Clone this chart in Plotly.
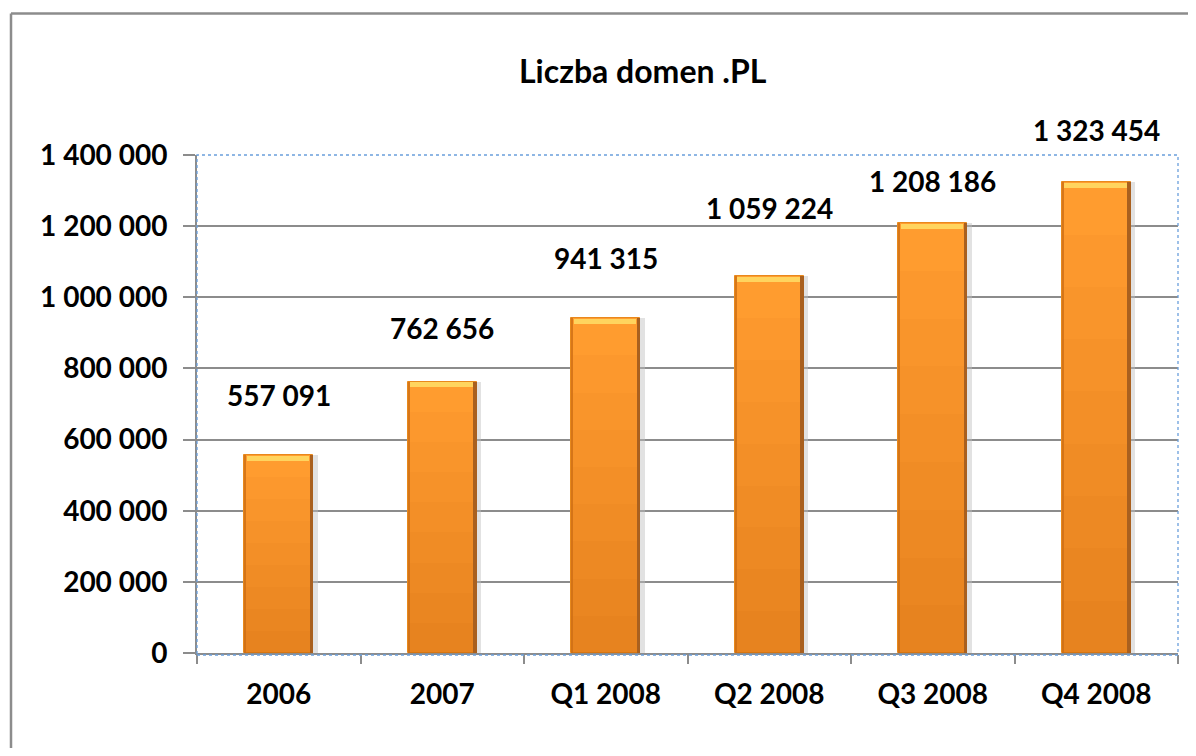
import plotly.graph_objects as go

# ---- data ----
categories = ["2006", "2007", "Q1 2008", "Q2 2008", "Q3 2008", "Q4 2008"]
domains = [557091, 762656, 941315, 1059224, 1208186, 1323454]
y_ticks = [0, 200000, 400000, 600000, 800000, 1000000, 1200000, 1400000]
title_text = "Liczba domen .PL"

# ---- style / layout settings ----
label_shift = [60, 54, 60, 68, 42, 52]  # px above bar top for value labels
FONT = "Lato"
BAR_W = 0.42
PLOT_H_PX = 498
Y_MAX = 1400000
CAP_H = 5 * Y_MAX / PLOT_H_PX  # 5 px bevel expressed in data units

fig = go.Figure()

# soft shadow to the right
fig.add_trace(go.Bar(x=categories, y=domains, width=BAR_W, offset=-BAR_W / 2 + 0.03,
                     marker=dict(color="rgba(190,190,190,0.45)", line=dict(width=0)),
                     hoverinfo="skip", showlegend=False))
# main bar body
fig.add_trace(go.Bar(x=categories, y=domains, width=BAR_W, offset=-BAR_W / 2,
                     marker=dict(color="#FF9C2F", line=dict(color="#E8891C", width=1)),
                     showlegend=False))
# vertical shading: darker towards the bottom
N = 9
for k in range(1, N):
    fig.add_trace(go.Bar(x=categories, y=[v * (1 - k / N) for v in domains],
                         width=BAR_W, offset=-BAR_W / 2,
                         marker=dict(color="rgba(170,70,0,0.04)", line=dict(width=0)),
                         hoverinfo="skip", showlegend=False))
# left edge
fig.add_trace(go.Bar(x=categories, y=domains, width=0.012, offset=-BAR_W / 2,
                     marker=dict(color="rgba(205,110,20,0.8)", line=dict(width=0)),
                     hoverinfo="skip", showlegend=False))
# right edge (dark brown)
fig.add_trace(go.Bar(x=categories, y=domains, width=0.02, offset=BAR_W / 2 - 0.02,
                     marker=dict(color="#A9601F", line=dict(width=0)),
                     hoverinfo="skip", showlegend=False))
# top bevel cap
fig.add_trace(go.Bar(x=categories, y=[CAP_H] * len(domains),
                     base=[v - CAP_H * 1.15 for v in domains],
                     width=BAR_W - 0.04, offset=-BAR_W / 2 + 0.015,
                     marker=dict(color="#FFD45E", line=dict(width=0)),
                     hoverinfo="skip", showlegend=False))

# value labels (x given as category index so numeric-looking names are not misread)
for i, (v, s) in enumerate(zip(domains, label_shift)):
    fig.add_annotation(x=i, y=v, yshift=s, text=f"{v:,}".replace(",", " "),
                       showarrow=False, xanchor="center", yanchor="middle",
                       font=dict(family=FONT, size=28, color="#000", weight=700))

# title
fig.add_annotation(x=0.4546, y=1.1697, xref="paper", yref="paper", text=title_text,
                   showarrow=False, xanchor="center", yanchor="middle",
                   font=dict(family=FONT, size=32, color="#000", weight=700))

# plot-area dotted selection frame
fig.add_shape(type="rect", xref="paper", yref="paper", x0=0, x1=1, y0=-0.004, y1=1,
              line=dict(color="#6A9FDC", width=1.3, dash="dot"), layer="above")
# outer chart border: only the left and top edges lie inside the picture
fig.add_shape(type="line", xref="paper", yref="paper", x0=-0.1896, x1=-0.1896, y0=-0.3, y1=1.2841,
              line=dict(color="#8C8C8C", width=2.5), layer="above")
fig.add_shape(type="line", xref="paper", yref="paper", x0=-0.1896, x1=1.02, y0=1.2841, y1=1.2841,
              line=dict(color="#8C8C8C", width=2.5), layer="above")

fig.update_layout(
    width=1180, height=740,
    margin=dict(l=189, r=10, t=147, b=95),
    paper_bgcolor="white", plot_bgcolor="white",
    barmode="overlay", bargap=0,
    separators=", ",
    showlegend=False,
    xaxis=dict(type="category", tickson="boundaries", ticks="outside", ticklen=9,
               tickwidth=2, tickcolor="#8C8C8C", showline=True, linecolor="#8C8C8C",
               linewidth=2, showgrid=False, range=[-0.5, 5.5],
               tickfont=dict(family=FONT, size=28, color="#000", weight=700),
               ticklabelstandoff=15),
    yaxis=dict(range=[0, Y_MAX], tickvals=y_ticks, tickformat=",d", ticks="outside",
               ticklen=12, tickwidth=2, tickcolor="#8C8C8C", showline=True,
               linecolor="#8C8C8C", linewidth=2, showgrid=True, gridcolor="#8C8C8C",
               gridwidth=1.6, zeroline=False,
               tickfont=dict(family=FONT, size=28, color="#000", weight=700),
               ticklabelstandoff=10),
)

fig.write_html("out.html")
